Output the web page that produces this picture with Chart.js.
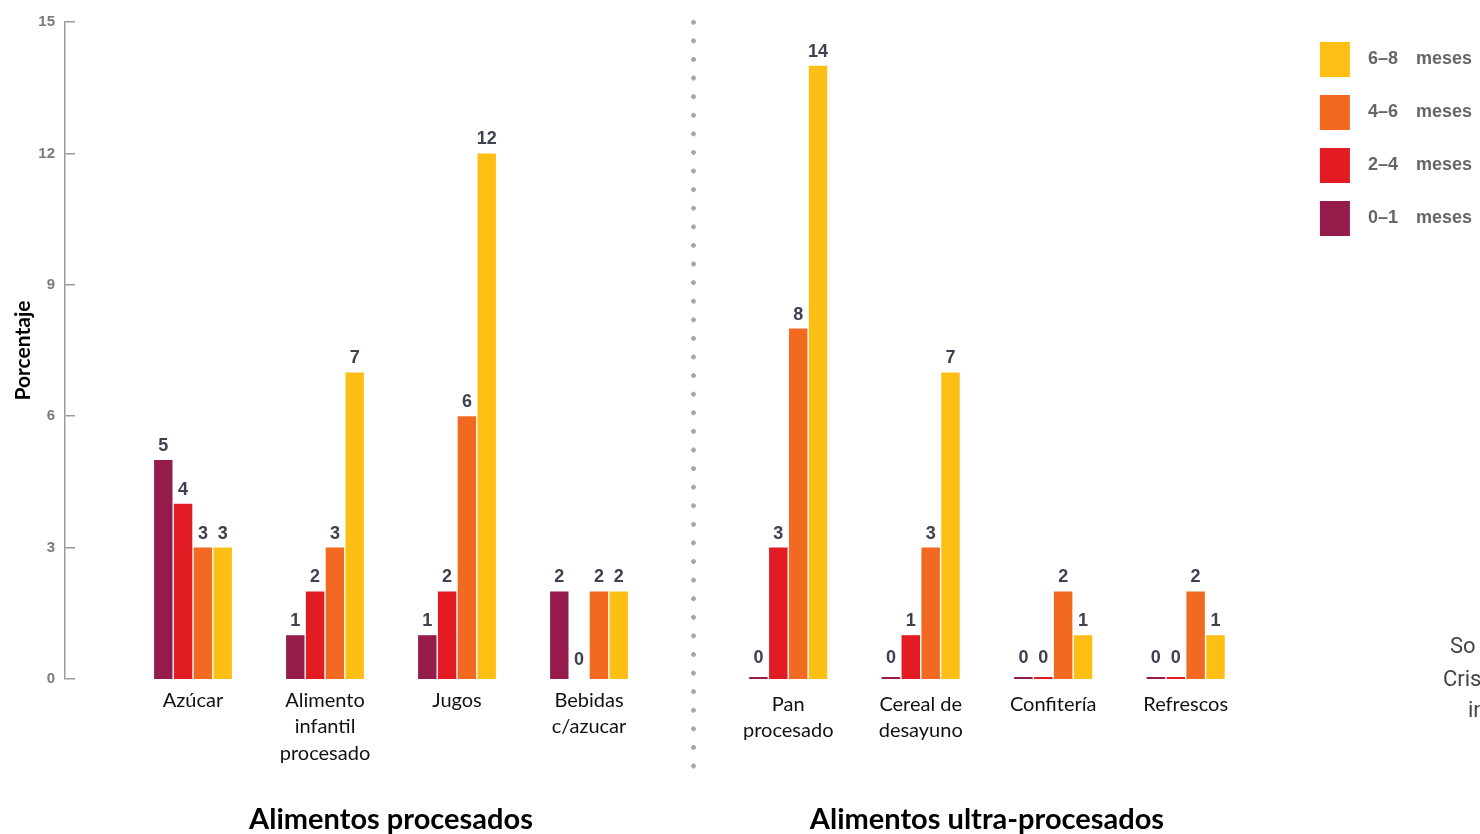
<!DOCTYPE html>
<html lang="es">
<head>
<meta charset="utf-8">
<title>Alimentos procesados y ultra-procesados</title>
<script src="https://cdn.jsdelivr.net/npm/chart.js@4.4.1/dist/chart.umd.min.js"></script>
<style>
  html, body { margin: 0; padding: 0; background: #fff; }
  body { width: 1480px; height: 834px; overflow: hidden; position: relative; }
  canvas { position: absolute; top: 0; }
  #y-axis { left: 0; }
  #left-chart { left: 127px; }
  #right-chart { left: 722px; }
  .sep {
    position: absolute; left: 691px; top: 13px; width: 5px; height: 760px;
    background: radial-gradient(circle, #a5a5a5 0, #a5a5a5 2px, transparent 2.7px) repeat-y;
    background-size: 5px 18.6px;
  }
  .note { position: absolute; font: 22px Roboto, sans-serif; color: #444; white-space: nowrap; }
</style>
</head>
<body>
<canvas id="y-axis" width="75" height="840"></canvas>
<canvas id="left-chart" width="528" height="840"></canvas>
<canvas id="right-chart" width="760" height="840"></canvas>
<div class="sep"></div>
<div class="note" style="left:1450px; top:633px">So</div>
<div class="note" style="left:1443px; top:666px">Cris</div>
<div class="note" style="left:1468px; top:697px">in</div>

<script>
// --- datos
const ageGroups = ["0–1", "2–4", "4–6", "6–8"];
const yTicks = [0, 3, 6, 9, 12, 15];

const procCategories = ["Azúcar", ["Alimento", "infantil", "procesado"], "Jugos", ["Bebidas", "c/azucar"]];
const proc_0_1 = [5, 1, 1, 2];
const proc_2_4 = [4, 2, 2, 0];
const proc_4_6 = [3, 3, 6, 2];
const proc_6_8 = [3, 7, 12, 2];

const ultraCategories = [["Pan", "procesado"], ["Cereal de", "desayuno"], "Confitería", "Refrescos"];
const ultra_0_1 = [0, 0, 0, 0];
const ultra_2_4 = [3, 1, 0, 0];
const ultra_4_6 = [8, 3, 2, 2];
const ultra_6_8 = [14, 7, 1, 1];

const C = {
  purple: "#951B4B",
  red:    "#E31B23",
  orange: "#F26A21",
  yellow: "#FDBF14",
  axis:   "#9a9a9a",
};
const ageColors = [C.purple, C.red, C.orange, C.yellow];

const TOP = 22;          // espacio sobre el área del gráfico
const X_AXIS_H = 161;    // alto reservado para etiquetas + título inferior

// números encima de cada barra
const valueLabels = {
  id: "valueLabels",
  afterDatasetsDraw(chart) {
    const { ctx } = chart;
    ctx.save();
    ctx.font = "bold 18px 'Liberation Sans', Arial, sans-serif";
    ctx.fillStyle = "#3d4150";
    ctx.textAlign = "center";
    ctx.textBaseline = "bottom";
    chart.data.datasets.forEach((ds, i) => {
      chart.getDatasetMeta(i).data.forEach((bar, j) => {
        const v = ds.data[j];
        ctx.fillText(String(v), bar.x, bar.y - (v === 0 ? 10 : 5));
      });
    });
    ctx.restore();
  },
};

function makeDatasets(series, minBar) {
  return series.map((data, i) => ({
    label: ageGroups[i],
    data,
    backgroundColor: ageColors[i],
    borderWidth: 0,
    minBarLength: minBar,
    categoryPercentage: 0.6,
    barPercentage: 0.93,
  }));
}

function xScale(title, pad) {
  return {
    grid: { display: false },
    border: { display: false },
    ticks: {
      color: "#111",
      font: { family: "Lato, 'Open Sans', sans-serif", size: 20, lineHeight: 1.33 },
      padding: pad,
      maxRotation: 0,
      autoSkip: false,
    },
    title: {
      display: true,
      text: title,
      color: "#000",
      font: { family: "Lato, 'Open Sans', sans-serif", size: 29, weight: "bold", lineHeight: 1.2 },
      padding: { top: 0, bottom: 3 },
    },
    afterFit: (s) => { s.height = X_AXIS_H; },
  };
}

const hiddenY = {
  display: false,
  min: yTicks[0],
  max: yTicks[yTicks.length - 1],
};

// --- eje vertical (lienzo propio, así queda separado de las barras)
new Chart(document.getElementById("y-axis"), {
  type: "bar",
  data: { labels: [], datasets: [] },
  options: {
    responsive: false,
    animation: false,
    layout: { padding: { top: TOP, bottom: X_AXIS_H, left: 11, right: 0 } },
    plugins: { legend: { display: false }, tooltip: { enabled: false } },
    scales: {
      x: { display: false },
      y: {
        min: yTicks[0],
        max: yTicks[yTicks.length - 1],
        ticks: {
          stepSize: yTicks[1] - yTicks[0],
          color: "#7a7a7a",
          font: { family: "'Liberation Sans', Arial, sans-serif", size: 15, weight: "bold" },
          padding: 10,
        },
        grid: { color: C.axis, lineWidth: 1.5, drawTicks: false },
        border: { color: C.axis, width: 1.5 },
        title: {
          display: true,
          text: "Porcentaje",
          color: "#000",
          font: { family: "Lato, 'Open Sans', sans-serif", size: 21, weight: "bold", lineHeight: 1.2 },
          padding: { top: 0, bottom: 0 },
        },
        afterFit: (s) => { s.width = 54; },
      },
    },
  },
});

// --- Alimentos procesados
new Chart(document.getElementById("left-chart"), {
  type: "bar",
  data: {
    labels: procCategories,
    datasets: makeDatasets([proc_0_1, proc_2_4, proc_4_6, proc_6_8], 0),
  },
  options: {
    responsive: false,
    animation: false,
    layout: { padding: { top: TOP, bottom: 0, left: 0, right: 0 } },
    plugins: { legend: { display: false }, tooltip: { enabled: false } },
    scales: {
      x: xScale("Alimentos procesados", 0),
      y: hiddenY,
    },
  },
  plugins: [valueLabels],
});

// --- Alimentos ultra-procesados (con la leyenda a la derecha)
new Chart(document.getElementById("right-chart"), {
  type: "bar",
  data: {
    labels: ultraCategories,
    datasets: makeDatasets([ultra_0_1, ultra_2_4, ultra_4_6, ultra_6_8], 2),
  },
  options: {
    responsive: false,
    animation: false,
    layout: { padding: { top: TOP, bottom: 0, left: 0, right: 0 } },
    plugins: {
      tooltip: { enabled: false },
      legend: {
        position: "right",
        align: "start",
        reverse: true,
        title: { display: true, text: "", padding: 0, font: { size: 2, lineHeight: 1 } },
        labels: {
          boxWidth: 30,
          boxHeight: 35,
          padding: 18,
          color: "#666",
          font: { family: "'Liberation Sans', Arial, sans-serif", size: 18, weight: "bold" },
          generateLabels(chart) {
            const items = Chart.defaults.plugins.legend.labels.generateLabels(chart);
            items.forEach((it) => { it.text = "\u2002" + it.text + "\u2003meses"; it.lineWidth = 0; });
            return items;
          },
        },
      },
    },
    scales: {
      x: xScale("Alimentos ultra-procesados", 4),
      y: hiddenY,
      // separa el área de barras de la leyenda
      spacer: {
        position: "right",
        grid: { display: false },
        border: { display: false },
        ticks: { display: false },
        afterFit: (s) => { s.width = 50; },
      },
    },
  },
  plugins: [valueLabels],
});
</script>
</body>
</html>
